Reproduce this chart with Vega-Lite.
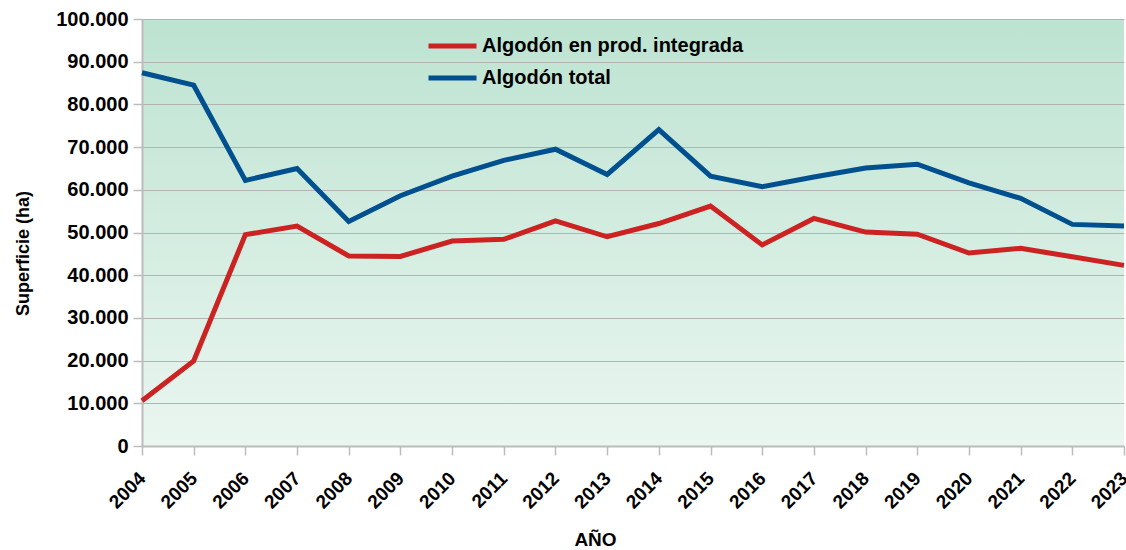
{
  "$schema": "https://vega.github.io/schema/vega-lite/v6.json",
  "width": 982,
  "height": 427,
  "autosize": "none",
  "padding": {"left": 142, "top": 19, "right": 2, "bottom": 104},
  "background": "#ffffff",
  "config": {
    "font": "Liberation Sans",
    "locale": {"number": {"decimal": ",", "thousands": ".", "grouping": [3], "currency": ["", " €"]}},
    "view": {
      "stroke": null,
      "fill": {"gradient": "linear", "x1": 0, "y1": 0, "x2": 0, "y2": 1,
        "stops": [{"offset": 0, "color": "#bde3d1"}, {"offset": 1, "color": "#eaf6f0"}]}
    }
  },
  "data": {
    "values": [
      {"year": "2004", "serie": "Algodón total", "ha": 87400},
      {"year": "2005", "serie": "Algodón total", "ha": 84500},
      {"year": "2006", "serie": "Algodón total", "ha": 62200},
      {"year": "2007", "serie": "Algodón total", "ha": 65000},
      {"year": "2008", "serie": "Algodón total", "ha": 52600},
      {"year": "2009", "serie": "Algodón total", "ha": 58600},
      {"year": "2010", "serie": "Algodón total", "ha": 63200},
      {"year": "2011", "serie": "Algodón total", "ha": 66900},
      {"year": "2012", "serie": "Algodón total", "ha": 69500},
      {"year": "2013", "serie": "Algodón total", "ha": 63600},
      {"year": "2014", "serie": "Algodón total", "ha": 74100},
      {"year": "2015", "serie": "Algodón total", "ha": 63200},
      {"year": "2016", "serie": "Algodón total", "ha": 60700},
      {"year": "2017", "serie": "Algodón total", "ha": 63000},
      {"year": "2018", "serie": "Algodón total", "ha": 65100},
      {"year": "2019", "serie": "Algodón total", "ha": 66000},
      {"year": "2020", "serie": "Algodón total", "ha": 61600},
      {"year": "2021", "serie": "Algodón total", "ha": 58000},
      {"year": "2022", "serie": "Algodón total", "ha": 51900},
      {"year": "2023", "serie": "Algodón total", "ha": 51500},
      {"year": "2004", "serie": "Algodón en prod. integrada", "ha": 10600},
      {"year": "2005", "serie": "Algodón en prod. integrada", "ha": 19900},
      {"year": "2006", "serie": "Algodón en prod. integrada", "ha": 49500},
      {"year": "2007", "serie": "Algodón en prod. integrada", "ha": 51500},
      {"year": "2008", "serie": "Algodón en prod. integrada", "ha": 44500},
      {"year": "2009", "serie": "Algodón en prod. integrada", "ha": 44400},
      {"year": "2010", "serie": "Algodón en prod. integrada", "ha": 48000},
      {"year": "2011", "serie": "Algodón en prod. integrada", "ha": 48400},
      {"year": "2012", "serie": "Algodón en prod. integrada", "ha": 52700},
      {"year": "2013", "serie": "Algodón en prod. integrada", "ha": 49000},
      {"year": "2014", "serie": "Algodón en prod. integrada", "ha": 52100},
      {"year": "2015", "serie": "Algodón en prod. integrada", "ha": 56200},
      {"year": "2016", "serie": "Algodón en prod. integrada", "ha": 47100},
      {"year": "2017", "serie": "Algodón en prod. integrada", "ha": 53300},
      {"year": "2018", "serie": "Algodón en prod. integrada", "ha": 50100},
      {"year": "2019", "serie": "Algodón en prod. integrada", "ha": 49600},
      {"year": "2020", "serie": "Algodón en prod. integrada", "ha": 45200},
      {"year": "2021", "serie": "Algodón en prod. integrada", "ha": 46300},
      {"year": "2022", "serie": "Algodón en prod. integrada", "ha": 44300},
      {"year": "2023", "serie": "Algodón en prod. integrada", "ha": 42300}
    ]
  },
  "mark": {"type": "line", "strokeWidth": 5, "strokeJoin": "miter", "strokeCap": "butt", "clip": false},
  "encoding": {
    "x": {
      "field": "year", "type": "ordinal",
      "scale": {"type": "point", "padding": 0},
      "axis": {
        "title": "AÑO", "titleFont": "Liberation Sans", "titleFontSize": 19, "titleFontWeight": "bold", "titleColor": "#000000",
        "titleX": 453, "titleY": 99, "titleAlign": "center", "titleBaseline": "alphabetic",
        "labelAngle": -45, "labelAlign": "right", "labelBaseline": "middle",
        "labelFont": "Liberation Sans", "labelFontSize": 19, "labelFontWeight": "bold", "labelColor": "#000000",
        "labelPadding": 20, "labelDx": -6, "labelOverlap": false, "labelBound": false,
        "domainColor": "#bcbcbc", "domainWidth": 2,
        "tickColor": "#bcbcbc", "tickSize": 9, "tickWidth": 1.5,
        "grid": false
      }
    },
    "y": {
      "field": "ha", "type": "quantitative",
      "scale": {"domain": [0, 100000], "nice": false},
      "axis": {
        "title": "Superficie (ha)", "titleFont": "Liberation Sans", "titleFontSize": 18, "titleFontWeight": "bold", "titleColor": "#000000",
        "titleAngle": -90, "titleX": -119, "titleY": 234, "titleAlign": "center", "titleBaseline": "middle",
        "values": [0, 10000, 20000, 30000, 40000, 50000, 60000, 70000, 80000, 90000, 100000],
        "format": ",.0f",
        "labelFont": "Liberation Sans", "labelFontSize": 20, "labelFontWeight": "bold", "labelColor": "#000000",
        "labelPadding": 5,
        "domainColor": "#bcbcbc", "domainWidth": 2,
        "tickColor": "#bcbcbc", "tickSize": 9, "tickWidth": 1.5,
        "grid": true, "gridColor": "#b3b3b3", "gridWidth": 1
      }
    },
    "color": {
      "field": "serie", "type": "nominal",
      "scale": {"domain": ["Algodón en prod. integrada", "Algodón total"], "range": ["#cc2222", "#00508f"]},
      "legend": {
        "title": null, "orient": "none", "legendX": 284, "legendY": 15,
        "symbolType": "stroke", "symbolSize": 2304, "symbolStrokeWidth": 5,
        "labelFont": "Liberation Sans", "labelFontSize": 20, "labelFontWeight": "bold", "labelColor": "#000000",
        "labelOffset": 3, "labelLimit": 0, "clipHeight": 24, "rowPadding": 8
      }
    }
  }
}
